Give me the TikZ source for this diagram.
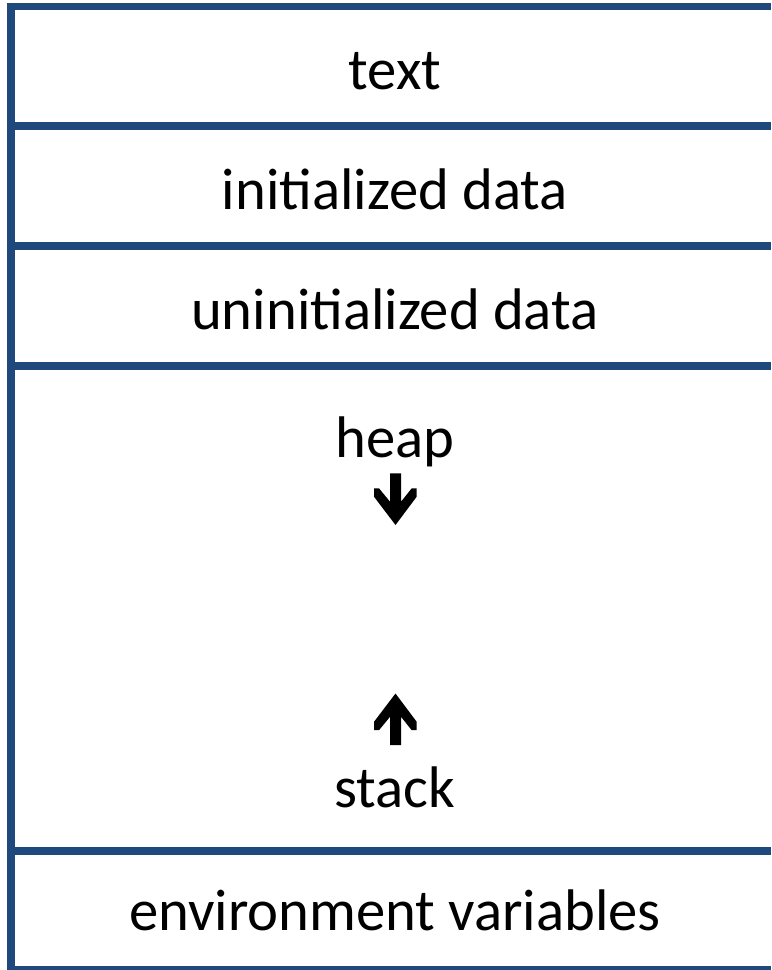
\documentclass[tikz,border=0pt]{standalone}
\usepackage{fontspec}
\setmainfont{Carlito}
\definecolor{segblue}{RGB}{31,73,125}
\tikzset{
  sepline/.style={draw=segblue, line width=5.8pt},
  seglabel/.style={anchor=base, inner sep=0pt, font=\fontsize{44}{52}\selectfont}
}
\begin{document}
\begin{tikzpicture}[x=0.75pt, y=-0.75pt]
    \useasboundingbox (0,0) rectangle (771,970);
    \clip (0,0) rectangle (771,970);

    % Borde superior e izquierdo
    \draw[sepline, line join=miter] (771,6.5) -- (11,6.5) -- (11,975);

    % Separadores de los segmentos
    \draw[sepline] (11,126) -- (771,126);
    \draw[sepline] (11,246) -- (771,246);
    \draw[sepline] (11,366) -- (771,366);
    \draw[sepline] (11,851) -- (771,851);
    \draw[sepline] (11,970) -- (771,970);

    % Nombres de los segmentos
    \node[seglabel] (text) at (395,89.3) {text};
    \node[seglabel] (idata) at (395,209.5) {initialized data};
    \node[seglabel] (udata) at (395,329.3) {uninitialized data};
    \node[seglabel] (heap) at (395,457.7) {heap};
    \node[seglabel] (stack) at (395,807.3) {stack};
    \node[seglabel] (env) at (395,930) {environment variables};

    % Flechas de crecimiento
    \fill (390,473.3) -- (401,473.3) -- (401,501.7) -- (411.7,488.3) -- (416.7,488.3)
        -- (416.7,496.7) -- (395.5,525) -- (374,496.7) -- (374,488.3) -- (379,488.3)
        -- (390,501.7) -- cycle;
    \fill (390,745.2) -- (401,745.2) -- (401,716.8) -- (411.7,730.2) -- (416.7,730.2)
        -- (416.7,721.8) -- (395.5,693.5) -- (374,721.8) -- (374,730.2) -- (379,730.2)
        -- (390,716.8) -- cycle;
\end{tikzpicture}
\end{document}
